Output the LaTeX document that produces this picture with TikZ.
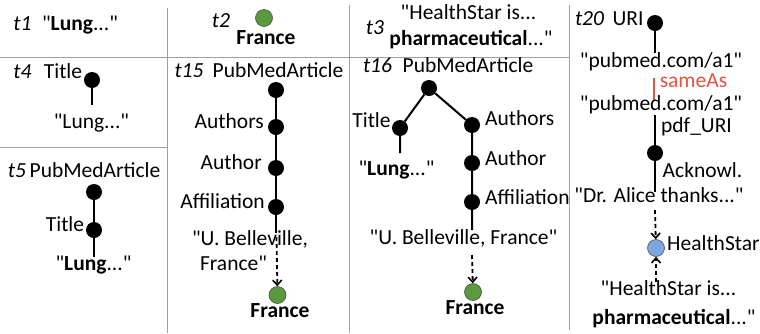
\documentclass[tikz,border=0pt]{standalone}
\usepackage{fontspec}
\setmainfont{Carlito}[Ligatures=TeXOff]
\usetikzlibrary{arrows.meta}
\definecolor{grn}{HTML}{5A9A3C}
\definecolor{blu}{HTML}{7EA6DE}
\definecolor{sred}{HTML}{E8533F}
\definecolor{sep}{HTML}{A0A0A0}
\begin{document}
\begin{tikzpicture}[x=1pt,y=-1pt,
  every node/.style={inner sep=0pt,font=\fontsize{21.5}{24}\selectfont},
  lbl/.style={anchor=mid},
  tlbl/.style={anchor=mid,font=\fontsize{21.5}{24}\selectfont\itshape},
  dot/.style={circle,fill=black,minimum size=16pt,inner sep=0pt},
  gdot/.style={circle,fill=grn,draw=black!70,line width=0.6pt,minimum size=17pt,inner sep=0pt},
  bdot/.style={circle,fill=blu,draw=black!70,line width=0.6pt,minimum size=17pt,inner sep=0pt},
  edge/.style={line width=2pt},
  darr/.style={line width=1.8pt,dash pattern=on 4pt off 3pt,-{Straight Barb[length=5pt,width=9pt,line width=1.6pt]}},
  sepline/.style={draw=sep,line width=1pt}]
\useasboundingbox (0,0) rectangle (760,333);
% separators
\draw[sepline] (167,8) -- (167,333);
\draw[sepline] (349,5) -- (349,333);
\draw[sepline] (569,5) -- (569,330);
\draw[sepline] (0,57) -- (569,57);
\draw[sepline] (0,147) -- (167,147);

% t1
\node[tlbl] (t1) at (22.5,28) {t1};
\node[lbl] (t1s) at (80,28) {"\textbf{Lung}..."};

% t4
\node[tlbl] (t4) at (22.5,76) {t4};
\node[lbl] (t4t) at (63,76) {Title};
\node[dot] (t4d) at (92,80) {};
\coordinate (t4e) at (92,105);
\draw[edge] (t4d) -- (t4e);
\node[lbl] (t4s) at (91.5,126) {"Lung..."};

% t5
\node[tlbl] (t5) at (17,175) {t5};
\node[lbl] (t5p) at (95,175) {PubMedArticle};
\node[dot] (t5d1) at (94,192) {};
\node[dot] (t5d2) at (94,230) {};
\node[lbl] (t5t) at (65,229) {Title};
\coordinate (t5e) at (94,257);
\draw[edge] (t5d1) -- (t5d2) -- (t5e);
\node[lbl] (t5s) at (93.5,268) {"\textbf{Lung}..."};

% t2
\node[tlbl] (t2) at (221,25) {t2};
\node[gdot] (t2g) at (264,18) {};
\node[lbl] (t2f) at (266,42) {\textbf{France}};

% t15
\node[tlbl] (t15) at (189,75) {t15};
\node[lbl] (t15p) at (278,75) {PubMedArticle};
\node[dot] (a0) at (276,90) {};
\node[dot] (a1) at (276,127) {};
\node[dot] (a2) at (276,168) {};
\node[dot] (a3) at (276,207) {};
\node[anchor=mid east] (a1l) at (264,126) {Authors};
\node[anchor=mid east] (a2l) at (262,167) {Author};
\node[anchor=mid east] (a3l) at (265,206) {Affiliation};
\coordinate (a4) at (276,233);
\draw[edge] (a0) -- (a1) -- (a2) -- (a3) -- (a4);
\node[lbl] (t15u) at (250,243) {"U. Belleville,};
\node[lbl] (t15v) at (233.5,268) {France"};
\coordinate (a5) at (276.5,237);
\node[gdot] (a6) at (277.5,295) {};
\draw[darr] (a5) -- (a6);
\node[lbl] (t15f) at (280,315) {\textbf{France}};

% t3
\node[tlbl] (t3) at (375,32) {t3};
\node[lbl] (t3a) at (468.5,17) {"HealthStar is...};
\node[lbl] (t3b) at (471,43) {\textbf{pharmaceutical}..."};

% t16
\node[tlbl] (t16) at (377.5,70) {t16};
\node[lbl] (t16p) at (468,70) {PubMedArticle};
\node[dot] (b0) at (429,88) {};
\node[dot] (bt) at (400,128) {};
\node[dot] (b1) at (472,125) {};
\node[dot] (b2) at (472,163) {};
\node[dot] (b3) at (472,202) {};
\node[lbl] (btl) at (371.5,125) {Title};
\node[anchor=mid west] (b1l) at (485,123) {Authors};
\node[anchor=mid west] (b2l) at (485,163) {Author};
\node[anchor=mid west] (b3l) at (485,202) {Affiliation};
\coordinate (bte) at (400,153);
\coordinate (b4) at (472,230);
\draw[edge] (bte) -- (bt) -- (b0) -- (b1) -- (b2) -- (b3) -- (b4);
\node[lbl] (bts) at (396.5,173) {"\textbf{Lung}..."};
\node[lbl] (b16u) at (463.5,242) {"U. Belleville, France"};
\coordinate (b5) at (472,255);
\node[gdot] (b6) at (473,292) {};
\draw[darr] (b5) -- (b6);
\node[lbl] (b16f) at (475,312) {\textbf{France}};

% t20
\node[tlbl] (t20) at (589.5,23) {t20};
\node[lbl] (uri) at (628,23) {URI};
\node[dot] (c0) at (655,23) {};
\coordinate (c0e) at (655,53);
\draw[edge] (c0) -- (c0e);
\node[lbl] (pm1) at (661,65) {"pubmed.com/a1"};
\coordinate (r1) at (654,78);
\coordinate (r2) at (654,100);
\draw[sred,line width=1.6pt] (r1) -- (r2);
\node[lbl,text=sred] (same) at (693.5,85) {sameAs};
\node[lbl] (pm2) at (661,108) {"pubmed.com/a1"};
\coordinate (c1s) at (655,115);
\node[dot] (c1) at (655,153) {};
\coordinate (c1e) at (655,192);
\draw[edge] (c1s) -- (c1) -- (c1e);
\node[lbl] (pdf) at (696.5,130) {pdf\_URI};
\node[lbl] (ack) at (702.5,175) {Acknowl.};
\node[lbl] (dra) at (659,200) {"Dr. Alice thanks..."};
\coordinate (c2s) at (655,210);
\node[bdot] (hs) at (656,248) {};
\node[anchor=mid west] (hsl) at (667,248) {HealthStar};
\draw[darr] (c2s) -- (hs);
\coordinate (c3s) at (656,282);
\draw[darr] (c3s) -- (hs);
\node[lbl] (hs1) at (668.5,293) {"HealthStar is...};
\node[lbl] (hs2) at (674,322) {\textbf{pharmaceutical}..."};
\end{tikzpicture}
\end{document}
